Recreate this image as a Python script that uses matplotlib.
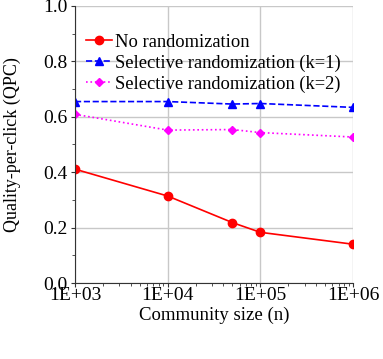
import matplotlib.pyplot as plt
import numpy as np

plt.rcParams['font.family'] = ['Liberation Serif', 'DejaVu Serif']

community_size = [1e3, 1e4, 5e4, 1e5, 1e6]
no_random = [0.411, 0.314, 0.218, 0.183, 0.140]
selective_k1 = [0.655, 0.655, 0.646, 0.648, 0.634]
selective_k2 = [0.609, 0.552, 0.554, 0.543, 0.527]

fig = plt.figure(figsize=(3.83, 3.59), dpi=100)
ax = fig.add_axes([75 / 383, 1 - 283 / 359, 278 / 383, 277 / 359])

ax.plot(community_size, no_random, '-o', color='#ff0000', lw=1.2, markersize=6,
        label='No randomization')
ax.plot(community_size, selective_k1, '--^', color='#0000ff', lw=1.2, markersize=6,
        label='Selective randomization (k=1)')
ax.plot(community_size, selective_k2, ':D', color='#ff00ff', lw=1.2, markersize=4.5,
        label='Selective randomization (k=2)')

ax.set_xscale('log')
ax.set_xlim(1e3, 1e6)
ax.set_ylim(0, 1.0)
ax.set_xticks([1e3, 1e4, 1e5, 1e6])
ax.set_xticklabels(['1E+03', '1E+04', '1E+05', '1E+06'])
ax.set_yticks([0.0, 0.2, 0.4, 0.6, 0.8, 1.0])
ax.set_yticklabels(['0.0', '0.2', '0.4', '0.6', '0.8', '1.0'])
ax.set_yticks(np.arange(0.1, 1.0, 0.2), minor=True)
ax.tick_params(which='both', direction='out', labelsize=14, color='#333333')
ax.tick_params(which='major', length=3)
ax.tick_params(which='minor', length=2)
ax.tick_params(axis='x', pad=0)
ax.tick_params(axis='y', pad=2.5)

ax.grid(True, which='major', color='#c8c8c8', lw=1.0)
ax.set_axisbelow(True)
for side in ['top', 'right']:
    ax.spines[side].set_visible(False)
ax.spines['left'].set_color('#333333')
ax.spines['bottom'].set_color('#333333')

ax.set_xlabel('Community size (n)', fontsize=13.5, labelpad=2)
ax.set_ylabel('Quality-per-click (QPC)', fontsize=13, labelpad=16)

ax.legend(loc='upper left', bbox_to_anchor=(0.0, 0.94), frameon=False, fontsize=13.3,
          handlelength=1.4, handletextpad=0.15, borderaxespad=0.2, labelspacing=0.2)

fig.savefig('out.png', dpi=100)
